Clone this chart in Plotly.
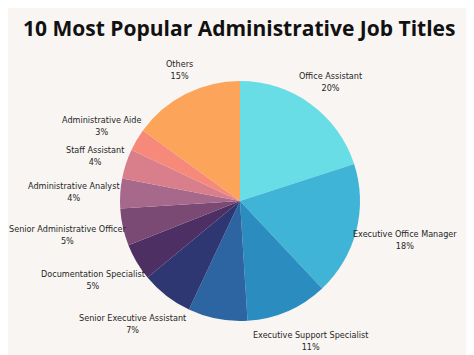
import math
import plotly.graph_objects as go

# ---- data ----
job_titles = ["Office Assistant", "Executive Office Manager", "Executive Support Specialist",
              "(unlabeled)", "Senior Executive Assistant", "Documentation Specialist",
              "Senior Administrative Officer", "Administrative Analyst", "Staff Assistant",
              "Administrative Aide", "Others"]
slice_share = [20, 18, 11, 8, 7, 5, 5, 4, 4, 3, 15]
label_pct = ["20%", "18%", "11%", "", "7%", "5%", "5%", "4%", "4%", "3%", "15%"]
show_label = [True, True, True, False, True, True, True, True, True, True, True]
colors = ["#68dde6", "#40b4d7", "#2a8cbf", "#2d64a2", "#2e3771", "#4e2f63",
          "#7a4a75", "#a6698c", "#d97f8c", "#f6897a", "#fba45a"]

# page body adds an 8px offset, so the figure is 8px smaller and shifted
OFF = 8
W, H = 474 - OFF, 355 - OFF
CX, CY, R = 240 - OFF, 201 - OFF, 120
BG = "#f8f5f2"
LABEL_FS = 9
CHAR_W = 0.45

fig = go.Figure(go.Pie(
    labels=job_titles, values=slice_share, sort=False, direction="clockwise",
    rotation=0, textinfo="none", hoverinfo="label+percent",
    marker=dict(colors=colors, line=dict(width=0)),
    domain=dict(x=[(CX - R) / W, (CX + R) / W], y=[1 - (CY + R) / H, 1 - (CY - R) / H]),
    showlegend=False,
))

# label placement from cumulative slice angles
total = sum(slice_share)
cum = 0
annotations = []
for name, v, pct, show in zip(job_titles, slice_share, label_pct, show_label):
    mid = (cum + v / 2) / total * 2 * math.pi
    cum += v
    if not show:
        continue
    ux, uy = math.sin(mid), -math.cos(mid)
    w = max(len(name), len(pct)) * CHAR_W * LABEL_FS
    h = 2 * 1.3 * LABEL_FS
    px = CX + (R + 2) * ux + w / 2 * ux
    py = CY + (R + (24 if uy > 0 else 15)) * uy + h / 2 * uy
    px = min(max(px, w / 2 + 1), W - w / 2 - 1)
    py = min(max(py, h / 2 + 1), H - h / 2 - 2)
    annotations.append(dict(
        x=px / W, y=1 - py / H, xref="paper", yref="paper",
        text=f"{name}<br>{pct}", showarrow=False, xanchor="center", yanchor="middle",
        align="center",
        font=dict(family="Liberation Sans Narrow, DejaVu Sans Condensed, Roboto, sans-serif",
                  size=LABEL_FS, color="#262626"),
    ))

annotations.append(dict(
    x=(239 - OFF) / W, y=1 - (28 - OFF) / H, xref="paper", yref="paper", showarrow=False,
    text="<b>10 Most Popular Administrative Job Titles</b>",
    xanchor="center", yanchor="middle",
    font=dict(family="Open Sans, Lato, sans-serif", size=21, color="#111111"),
))

fig.update_layout(
    width=W, height=H, margin=dict(l=0, r=0, t=0, b=0),
    paper_bgcolor=BG, plot_bgcolor=BG, annotations=annotations,
)

fig.write_html("out.html")
